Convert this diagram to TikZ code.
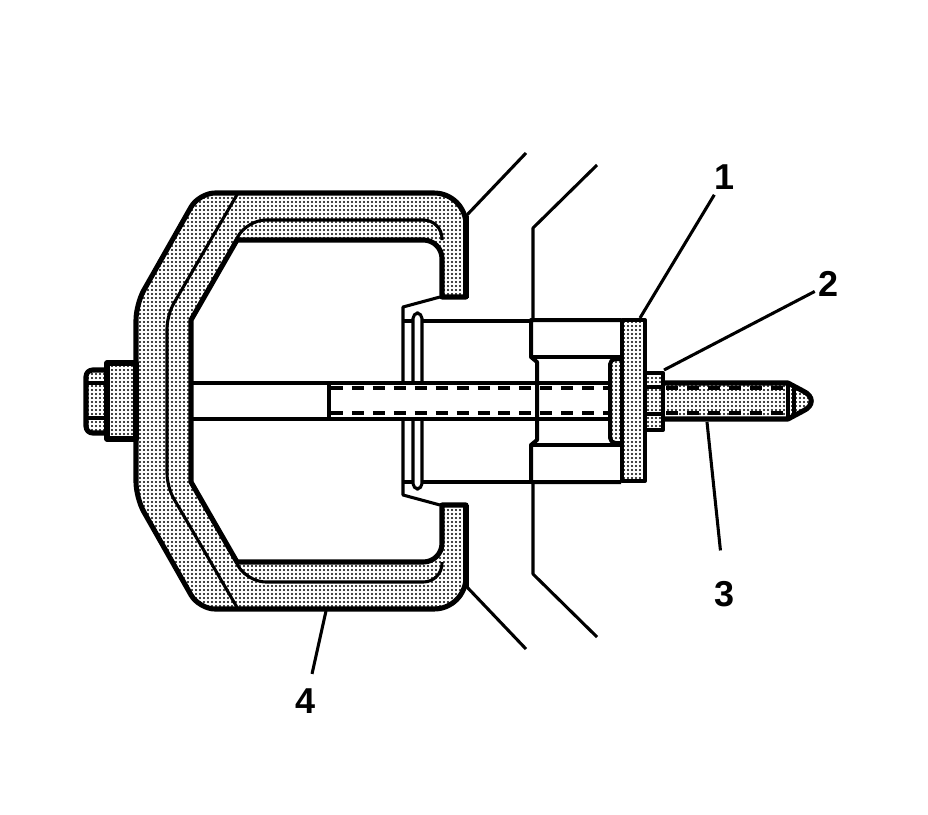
\documentclass[tikz,border=0pt]{standalone}
\usepackage{fontspec}
\setmainfont{Liberation Sans}
\usetikzlibrary{patterns.meta}
\tikzset{
  heavy/.style={line width=3.8pt,line join=round},
  medium/.style={line width=3pt,line join=round},
  light/.style={line width=2.3pt,line join=round},
  dotted fill/.style={pattern={Dots[radius=.85pt,distance=3pt]},pattern color=black},
  hidden thread/.style={line width=2.6pt,dash pattern=on 9pt off 6.7pt},
  leader/.style={line width=2.3pt},
  numlabel/.style={font=\fontsize{27}{27}\selectfont\bfseries,inner sep=3pt},
}
\begin{document}
\begin{tikzpicture}[x=.75pt,y=-.75pt]
\useasboundingbox (0,0) rectangle (928,814);
% yoke
\draw[heavy,dotted fill] (442,297) -- (466,297) [rounded corners=24pt] -- (466,193)
  [rounded corners=12pt] -- (199,193) -- (136,304) -- (136,498) -- (199,609)
  [rounded corners=24pt] -- (466,609) [sharp corners] -- (466,505) -- (442,505)
  [rounded corners=14pt] -- (442,562) [sharp corners] -- (237,562) -- (191,482) -- (191,320) -- (237,240)
  [rounded corners=14pt] -- (442,240) [sharp corners] -- cycle;
\draw[light,rounded corners=10pt] (238,193) -- (167,315) -- (167,487) -- (238,609);
\draw[light,rounded corners=14pt] (236,240) -- (247,220) -- (442,220) -- (442,240);
\draw[light,rounded corners=14pt] (236,562) -- (247,582) -- (442,582) -- (442,562);
\foreach \y in {216,505}{%
    \draw[line width=5pt] (466,\y) -- (466,\y+82);
}
% housing edges
\draw[light] (466,216) -- (526,153);
\draw[light] (466,586) -- (526,649);
\draw[light] (597,165) -- (533,228) -- (533,320);
\draw[light] (597,637) -- (533,574) -- (533,482);
% adapter lip
\draw[light] (440,297) -- (403,307) -- (403,383);
\draw[light] (440,505) -- (403,495) -- (403,419);
\draw[light,rounded corners=4pt] (413,383) -- (413,313) -- (422,313) -- (422,383);
\draw[light,rounded corners=4pt] (413,419) -- (413,489) -- (422,489) -- (422,419);
\draw[light] (403,321) -- (413,321) (422,321) -- (531,321);
\draw[light] (403,482) -- (413,482) (422,482) -- (531,482);
% block
\draw[medium] (621,320) -- (531,320) -- (531,357) -- (537,362) -- (537,440) -- (531,445) -- (531,482) -- (621,482);
\draw[medium] (531,357) -- (621,357) (531,445) -- (621,445);
% rod
\draw[light] (191,383) -- (610,383) (191,419) -- (610,419) (329,383) -- (329,419);
\foreach \y in {388,413}{%
    \draw[hidden thread] (331,\y) -- (610,\y);
}
% plates and nut
\draw[medium,dotted fill,rounded corners=4pt] (621,359) -- (610,359) -- (610,443) -- (621,443);
\draw[medium,dotted fill] (622,320) rectangle (645,481);
\draw[medium,dotted fill] (645,373) rectangle (663,430);
\foreach \y in {387,414}{%
    \draw[medium] (645,\y) -- (663,\y);
}
% bolt
\draw[heavy,dotted fill] (663,383) -- (788,383) -- (803,391) .. controls (814,396) and (814,406) .. (803,411) -- (788,419) -- (663,419);
\draw[light] (788,383) -- (788,419) (794,386) -- (794,416);
\foreach \y in {388,413}{%
    \draw[hidden thread] (666,\y) -- (788,\y);
}
% head at the far end
\draw[heavy,dotted fill] (107,363) rectangle (136,439);
\draw[heavy,dotted fill,rounded corners=5pt] (107,370) -- (86,370) -- (86,433) -- (107,433);
\draw[medium] (86,383) -- (107,383) (86,418) -- (107,418);
% labels
\foreach \n/\tx/\ty/\lx/\ly/\gap in {1/640/318/725/177/1,2/664/370/829/284/0,3/707/422/725/594/20,4/326/611/306/701/8}{%
    \coordinate (tip\n) at (\tx,\ty);
    \node[numlabel] (num\n) at (\lx,\ly) {\n};
    \draw[leader,shorten >=\gap pt] (tip\n) -- (num\n);
}
\end{tikzpicture}
\end{document}
